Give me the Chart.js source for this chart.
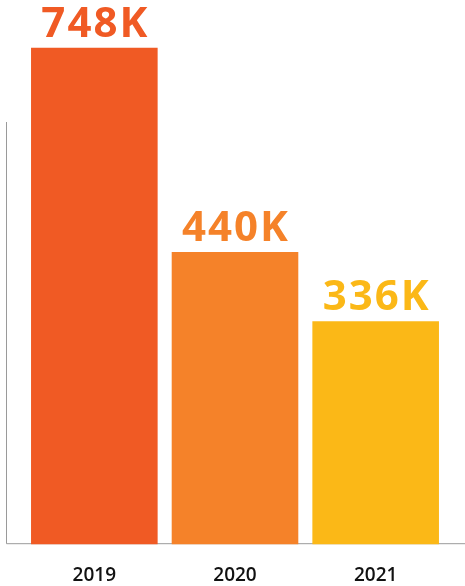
<!DOCTYPE html>
<html><head><meta charset="utf-8">
<script src="https://cdn.jsdelivr.net/npm/chart.js@4/dist/chart.umd.min.js"></script>
<style>html,body{margin:0;padding:0;background:#fff}#wrap{width:465px;height:586px;position:relative}</style>
</head><body><div id="wrap"><canvas id="c"></canvas></div>
<script>
const years = ['2019', '2020', '2021'];
const visitors = [748, 440, 336];
const valueLabels = ['748K', '440K', '336K'];
const barColors = ['#F05A24', '#F58229', '#FBB817'];

const axisLines = {
  id: 'axisLines',
  beforeDatasetsDraw(chart) {
    const ctx = chart.ctx, a = chart.chartArea;
    ctx.save();
    ctx.strokeStyle = '#9a9a9a';
    ctx.lineWidth = 1;
    ctx.beginPath();
    ctx.moveTo(6.5, a.top);
    ctx.lineTo(6.5, a.bottom - 0.5);
    ctx.lineTo(465, a.bottom - 0.5);
    ctx.stroke();
    ctx.restore();
  }
};
const valueLabelPlugin = {
  id: 'valueLabels',
  afterDatasetsDraw(chart) {
    const ctx = chart.ctx;
    const meta = chart.getDatasetMeta(0);
    ctx.save();
    ctx.font = '700 42px "Open Sans"';
    try { ctx.letterSpacing = '2px'; } catch (e) {}
    ctx.textAlign = 'center';
    ctx.textBaseline = 'alphabetic';
    meta.data.forEach((bar, i) => {
      ctx.fillStyle = barColors[i];
      ctx.fillText(valueLabels[i], bar.x + 1, bar.y - 11);
    });
    ctx.restore();
  }
};

new Chart(document.getElementById('c'), {
  type: 'bar',
  data: {
    labels: years,
    datasets: [{
      data: visitors,
      backgroundColor: barColors,
      borderWidth: 0,
      barPercentage: 0.9,
      categoryPercentage: 1.0,
      clip: false
    }]
  },
  options: {
    responsive: true,
    maintainAspectRatio: false,
    animation: false,
    layout: { padding: { top: 122, left: 24, right: 19, bottom: -21 } },
    plugins: { legend: { display: false }, tooltip: { enabled: false } },
    scales: {
      x: {
        grid: { display: false, drawTicks: false },
        border: { display: false },
        ticks: { color: '#111', font: { family: '"Open Sans"', size: 19, weight: '600' }, padding: 20 }
      },
      y: { display: false, min: 0, max: 636 }
    }
  },
  plugins: [axisLines, valueLabelPlugin]
});
</script></body></html>
